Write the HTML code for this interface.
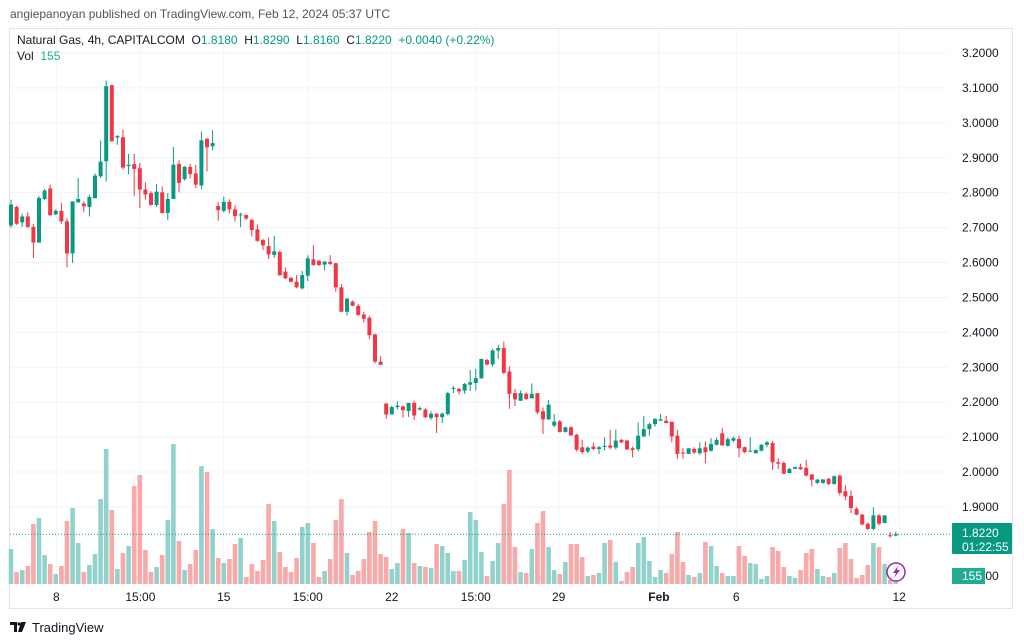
<!DOCTYPE html>
<html><head><meta charset="utf-8">
<style>
html,body{margin:0;padding:0;background:#fff;}
body{width:1024px;height:643px;position:relative;overflow:hidden;font-family:"Liberation Sans","DejaVu Sans",sans-serif;}
.hdr{position:absolute;left:10px;top:7px;font-size:12px;color:#50535e;}
svg{position:absolute;left:0;top:0;}
</style></head>
<body>
<div class="hdr">angiepanoyan published on TradingView.com, Feb 12, 2024 05:37 UTC</div>
<svg id="chart" width="1024" height="643" font-family="Liberation Sans, DejaVu Sans, sans-serif"></svg>
<script>
const opens=[2.706,2.759,2.715,2.732,2.702,2.657,2.782,2.812,2.738,2.748,2.718,2.626,2.772,2.769,2.759,2.784,2.847,2.890,3.108,2.958,2.959,2.876,2.882,2.870,2.809,2.799,2.765,2.801,2.742,2.782,2.882,2.839,2.874,2.855,2.821,2.954,2.933,2.762,2.748,2.774,2.752,2.737,2.736,2.722,2.695,2.664,2.647,2.622,2.630,2.574,2.556,2.545,2.526,2.562,2.609,2.605,2.594,2.602,2.598,2.529,2.459,2.488,2.476,2.451,2.442,2.394,2.316,2.196,2.165,2.186,2.188,2.175,2.198,2.179,2.179,2.155,2.167,2.157,2.166,2.238,2.238,2.233,2.250,2.255,2.268,2.321,2.308,2.348,2.355,2.288,2.226,2.204,2.224,2.211,2.226,2.174,2.151,2.133,2.145,2.115,2.128,2.107,2.071,2.059,2.073,2.066,2.073,2.076,2.070,2.092,2.090,2.068,2.065,2.102,2.123,2.137,2.147,2.147,2.144,2.104,2.056,2.052,2.066,2.054,2.071,2.061,2.078,2.111,2.075,2.090,2.095,2.071,2.059,2.054,2.061,2.078,2.083,2.028,2.026,1.997,2.009,2.014,2.012,1.993,1.969,1.969,1.981,1.966,1.990,1.945,1.932,1.895,1.878,1.852,1.837,1.876,1.854,1.819,1.818];
const highs=[2.780,2.763,2.740,2.744,2.711,2.790,2.811,2.823,2.753,2.771,2.727,2.775,2.842,2.775,2.794,2.855,2.949,3.121,3.108,2.965,2.981,2.911,2.911,2.885,2.830,2.804,2.825,2.818,2.799,2.931,2.893,2.876,2.883,2.880,2.975,2.957,2.979,2.773,2.789,2.781,2.764,2.743,2.738,2.726,2.709,2.668,2.672,2.676,2.634,2.586,2.559,2.564,2.576,2.621,2.650,2.607,2.603,2.621,2.599,2.538,2.497,2.491,2.481,2.459,2.447,2.397,2.332,2.198,2.190,2.203,2.190,2.198,2.204,2.187,2.183,2.174,2.169,2.171,2.230,2.246,2.241,2.255,2.292,2.295,2.324,2.324,2.353,2.365,2.374,2.303,2.238,2.233,2.228,2.254,2.226,2.185,2.206,2.166,2.149,2.130,2.132,2.109,2.092,2.073,2.084,2.075,2.099,2.121,2.121,2.095,2.092,2.073,2.142,2.161,2.142,2.154,2.167,2.161,2.144,2.121,2.068,2.068,2.071,2.085,2.087,2.097,2.099,2.127,2.099,2.102,2.104,2.073,2.100,2.065,2.080,2.089,2.089,2.040,2.031,2.012,2.016,2.024,2.035,1.995,1.981,1.979,1.983,1.990,1.992,1.962,1.947,1.899,1.880,1.856,1.899,1.880,1.876,1.828,1.829];
const lows=[2.700,2.708,2.702,2.699,2.613,2.657,2.778,2.735,2.736,2.711,2.586,2.599,2.772,2.744,2.732,2.784,2.842,2.832,2.947,2.937,2.866,2.853,2.790,2.756,2.780,2.763,2.759,2.740,2.721,2.782,2.801,2.835,2.841,2.813,2.811,2.861,2.921,2.720,2.744,2.741,2.717,2.701,2.722,2.674,2.660,2.636,2.610,2.613,2.562,2.552,2.543,2.526,2.523,2.547,2.591,2.590,2.577,2.593,2.516,2.459,2.448,2.475,2.447,2.428,2.381,2.311,2.307,2.152,2.165,2.179,2.156,2.158,2.149,2.176,2.155,2.149,2.112,2.140,2.162,2.226,2.222,2.224,2.233,2.233,2.268,2.306,2.302,2.324,2.281,2.181,2.189,2.204,2.207,2.211,2.166,2.109,2.149,2.128,2.113,2.113,2.103,2.059,2.052,2.054,2.062,2.051,2.062,2.065,2.065,2.083,2.062,2.042,2.059,2.100,2.104,2.130,2.147,2.140,2.085,2.038,2.038,2.052,2.052,2.049,2.025,2.059,2.076,2.076,2.073,2.085,2.042,2.054,2.057,2.052,2.059,2.071,2.006,2.009,1.995,1.997,2.009,2.006,1.987,1.959,1.966,1.966,1.962,1.964,1.933,1.919,1.882,1.876,1.847,1.833,1.833,1.847,1.854,1.812,1.816];
const closes=[2.766,2.711,2.732,2.702,2.657,2.785,2.806,2.735,2.748,2.718,2.626,2.775,2.782,2.761,2.788,2.849,2.889,3.105,2.947,2.962,2.872,2.880,2.868,2.809,2.795,2.765,2.803,2.742,2.782,2.880,2.828,2.874,2.853,2.823,2.950,2.930,2.942,2.750,2.774,2.752,2.733,2.738,2.726,2.693,2.662,2.649,2.623,2.632,2.564,2.555,2.545,2.529,2.564,2.612,2.593,2.593,2.603,2.596,2.529,2.459,2.497,2.476,2.450,2.439,2.392,2.316,2.307,2.165,2.186,2.190,2.177,2.198,2.162,2.183,2.157,2.167,2.157,2.167,2.226,2.241,2.231,2.252,2.257,2.269,2.324,2.308,2.348,2.355,2.284,2.224,2.208,2.226,2.209,2.224,2.171,2.151,2.193,2.144,2.115,2.128,2.105,2.064,2.057,2.070,2.066,2.071,2.075,2.070,2.090,2.085,2.065,2.063,2.104,2.123,2.137,2.152,2.151,2.140,2.102,2.052,2.053,2.068,2.056,2.068,2.057,2.080,2.092,2.076,2.094,2.097,2.068,2.057,2.061,2.063,2.078,2.085,2.028,2.024,1.995,2.009,2.014,2.008,1.990,1.978,1.978,1.979,1.966,1.988,1.940,1.930,1.897,1.878,1.850,1.837,1.876,1.852,1.876,1.818,1.822];
const volumes=[35,12,14,18,60,66,29,20,10,18,63,76,41,12,19,30,85,135,74,15,31,38,98,109,34,12,17,29,64,140,43,14,20,34,118,112,55,26,21,25,40,46,7,20,13,24,80,63,32,17,12,26,57,61,41,7,13,25,64,85,31,9,13,25,52,63,30,27,15,21,55,51,21,18,17,16,40,38,31,13,13,24,72,64,32,8,23,41,80,114,37,12,11,35,61,73,37,14,10,22,40,40,27,8,9,11,41,44,22,3,12,17,41,47,23,7,14,11,30,52,22,9,7,11,42,38,18,11,8,8,38,28,21,20,5,8,37,33,17,8,6,14,31,35,15,8,7,11,36,41,25,6,9,19,41,37,20,4,4];
const priceTicks=[3.2,3.1,3.0,2.9,2.8,2.7,2.6,2.5,2.4,2.3,2.2,2.1,2.0,1.9];
const timeLabels=["8","15:00","15","15:00","22","15:00","29","Feb","6","12"];
const timeLabelIdx=[8.1,23.1,38,53,68,83,97.8,115.7,129.5,158.6];

const svg=document.getElementById('chart');
const NS='http://www.w3.org/2000/svg';
const GREEN='#089981',RED='#F23645',VG='#92d2cc',VR='#f8a9a9';
const yP=p=>53+(3.2-p)*349.2;
const xI=i=>11+i*5.6;
const yV=v=>584-v;
function mk(tag,attrs,parent){const e=document.createElementNS(NS,tag);for(const k in attrs)e.setAttribute(k,attrs[k]);(parent||svg).appendChild(e);return e;}

const frame=mk('rect',{x:9.5,y:28.5,width:1003,height:580,fill:'none',stroke:'#e0e3eb'});


const grid=mk('g',{stroke:'#f0f3fa','stroke-width':1});


priceTicks.forEach(p=>{mk('line',{x1:10,x2:948,y1:yP(p),y2:yP(p)},grid);});
timeLabelIdx.forEach(i=>{mk('line',{x1:xI(i),x2:xI(i),y1:29,y2:584},grid);});

const vg=mk('g',{});


volumes.forEach((v,i)=>{
  const up=closes[i]>=opens[i];
  const r=mk('rect',{x:xI(i)-2.3,y:yV(v),width:4.6,height:v,fill:up?VG:VR},vg);
  
  
});
const cg=mk('g',{});


opens.forEach((o,i)=>{
  const c=closes[i],up=c>=o,col=up?GREEN:RED,x=xI(i);
  const g=mk('g',{},cg);
  
  
  mk('line',{x1:x,x2:x,y1:yP(highs[i]),y2:yP(lows[i]),stroke:col,'stroke-width':1},g);
  const t=yP(Math.max(o,c)),b=yP(Math.min(o,c));
  mk('rect',{x:x-2,y:t,width:4,height:Math.max(1,b-t),fill:col},g);
});
const lp=mk('line',{x1:10,x2:950,y1:yP(closes[closes.length-1]),y2:yP(closes[closes.length-1]),stroke:GREEN,'stroke-width':1,'stroke-dasharray':'1,2'});



const ax=mk('g',{fill:'#131722','font-size':12});


priceTicks.forEach(p=>{const t=mk('text',{x:962,y:yP(p)+4},ax);t.textContent=p.toFixed(4);});
const t18=mk('text',{x:962,y:580},ax);t18.textContent='1.8000';
const tx=mk('g',{fill:'#131722','font-size':12,'text-anchor':'middle'});


timeLabels.forEach((l,k)=>{const t=mk('text',{x:xI(timeLabelIdx[k]),y:601,'font-weight':l==='Feb'?'bold':'normal'},tx);t.textContent=l;});

const tag=mk('g',{});


mk('rect',{x:952,y:523,width:60,height:31,fill:GREEN,rx:1},tag);
const tl1=mk('text',{x:962,y:537,fill:'#fff','font-size':12},tag);tl1.textContent='1.8220';
const tl2=mk('text',{x:962,y:551,fill:'#fff','font-size':12},tag);tl2.textContent='01:22:55';
const vt=mk('g',{});


mk('rect',{x:952,y:568,width:33,height:16,fill:'#22ab94'},vt);
const vtt=mk('text',{x:962,y:580,fill:'#fff','font-size':12},vt);vtt.textContent='155';

const li=mk('g',{});


mk('circle',{cx:896,cy:572,r:9,fill:'#fff',stroke:'#9c27b0','stroke-width':1.5},li);
mk('path',{d:'M898 566 L893 573 L896 573 L894 578 L900 570 L897 570 Z',fill:'#9c27b0'},li);

const lg=mk('g',{'font-size':12});


const l1=mk('text',{x:17,y:44,fill:'#131722'},lg);
l1.innerHTML='Natural Gas, 4h, CAPITALCOM&#160;&#160;O<tspan fill="#089981">1.8180</tspan>&#160;&#160;H<tspan fill="#089981">1.8290</tspan>&#160;&#160;L<tspan fill="#089981">1.8160</tspan>&#160;&#160;C<tspan fill="#089981">1.8220</tspan>&#160;&#160;<tspan fill="#089981">+0.0040 (+0.22%)</tspan>';
const l2=mk('text',{x:17,y:60,fill:'#131722'},lg);
l2.innerHTML='Vol&#160;&#160;<tspan fill="#22ab94">155</tspan>';

const fl=mk('g',{});


mk('path',{d:'M10 622 H17 V632 H14 V625 H10 Z',fill:'#131722'},fl);
mk('circle',{cx:19,cy:624,r:1.6,fill:'#131722'},fl);
mk('path',{d:'M21 622 H26 L22 632 H18 Z',fill:'#131722'},fl);
const ft=mk('text',{x:32,y:632,fill:'#131722','font-size':13},fl);ft.textContent='TradingView';
</script>
</body></html>
